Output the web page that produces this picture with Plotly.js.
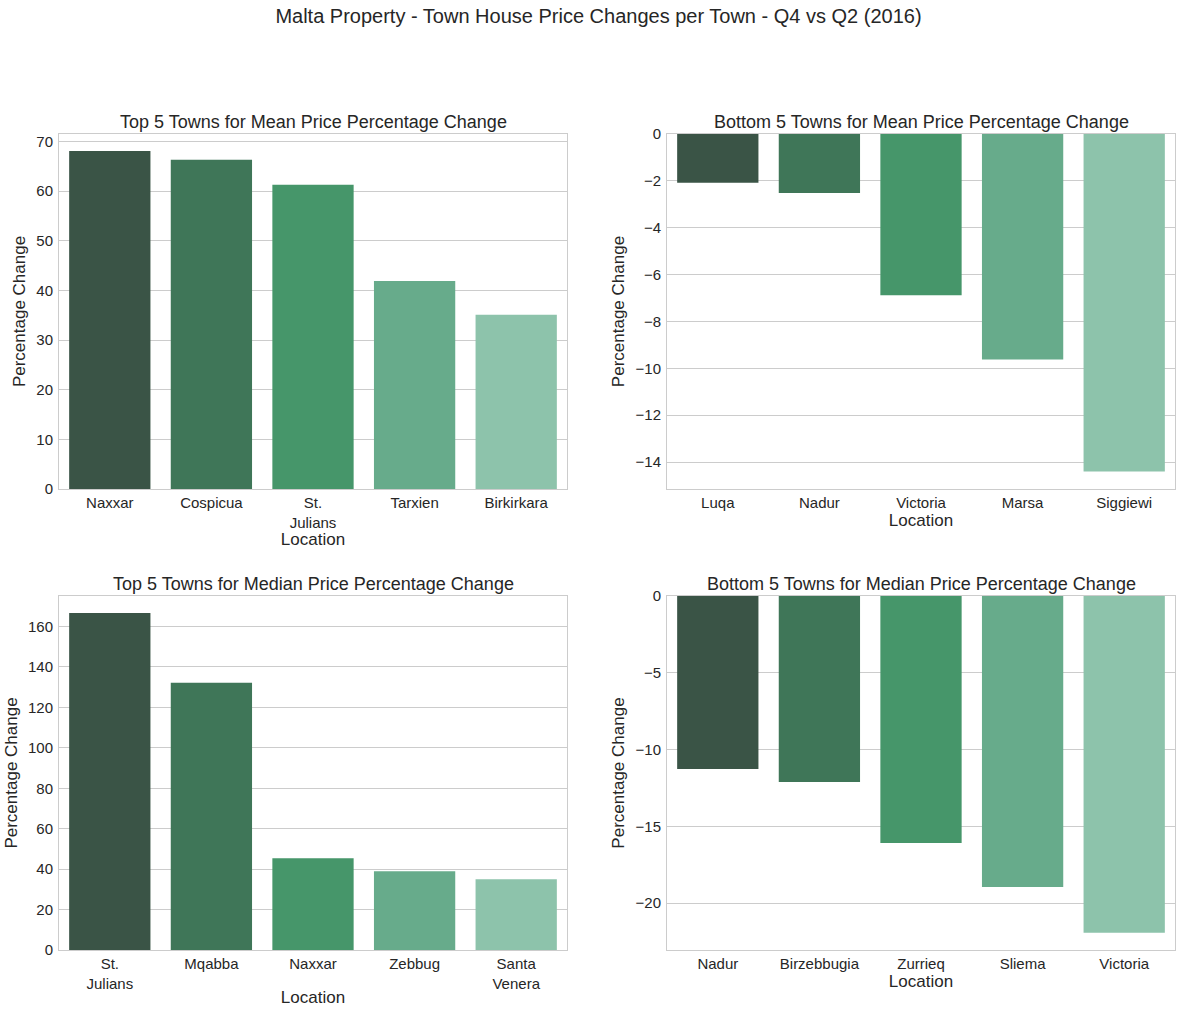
<!DOCTYPE html>
<html>
<head>
<meta charset="utf-8">
<script src="https://cdn.plot.ly/plotly-3.0.1.min.js"></script>
<style>html,body{margin:0;padding:0;background:#fff;}#chart{width:1181px;height:1013px;}</style>
</head>
<body>
<div id="chart"></div>
<script>
// ---- Data ----
const topMeanTowns = ['Naxxar', 'Cospicua', 'St.<br>Julians', 'Tarxien', 'Birkirkara'];
const topMeanValues = [68.1, 66.3, 61.3, 41.9, 35.1];

const bottomMeanTowns = ['Luqa', 'Nadur', 'Victoria', 'Marsa', 'Siggiewi'];
const bottomMeanValues = [-2.08, -2.52, -6.88, -9.62, -14.40];

const topMedianTowns = ['St.<br>Julians', 'Mqabba', 'Naxxar', 'Zebbug', 'Santa<br>Venera'];
const topMedianValues = [166.7, 132.2, 45.4, 39.0, 35.0];

const bottomMedianTowns = ['Nadur', 'Birzebbugia', 'Zurrieq', 'Sliema', 'Victoria'];
const bottomMedianValues = [-11.27, -12.11, -16.08, -18.94, -21.93];

const palette = ['#3a5446', '#3f7658', '#46966a', '#67ab8b', '#8dc3ab'];

const subplotTitles = [
  'Top 5 Towns for Mean Price Percentage Change',
  'Bottom 5 Towns for Mean Price Percentage Change',
  'Top 5 Towns for Median Price Percentage Change',
  'Bottom 5 Towns for Median Price Percentage Change'
];
const mainTitle = 'Malta Property - Town House Price Changes per Town - Q4 vs Q2 (2016)';

// ---- Build ----
const W = 1181, H = 1013;
const TXT = '#262626';
const FONT = 'Liberation Sans, Arial, sans-serif';

function bar(x, y, xa, ya) {
  return {type: 'bar', x: x, y: y, xaxis: xa, yaxis: ya,
    marker: {color: palette, line: {width: 0}}, hoverinfo: 'x+y', showlegend: false};
}
const data = [
  bar(topMeanTowns, topMeanValues, 'x', 'y'),
  bar(bottomMeanTowns, bottomMeanValues, 'x2', 'y2'),
  bar(topMedianTowns, topMedianValues, 'x3', 'y3'),
  bar(bottomMedianTowns, bottomMedianValues, 'x4', 'y4')
];

const leftDom = [59 / W, 567 / W];
const rightDom = [667 / W, 1175 / W];
const topDom = [(H - 489) / H, (H - 134) / H];
const botDom = [(H - 950) / H, (H - 596) / H];

function xax(dom, anchor) {
  return {domain: dom, anchor: anchor, showgrid: false, zeroline: false,
    showline: true, linecolor: '#cccccc', linewidth: 1, mirror: true,
    ticks: '', tickfont: {size: 15, color: TXT, family: FONT},
    title: {text: 'Location', font: {size: 17, color: TXT, family: FONT}, standoff: 0},
    fixedrange: true};
}
function yax(dom, anchor, range, dtick) {
  return {domain: dom, anchor: anchor, range: range, dtick: dtick, tick0: 0,
    showgrid: true, gridcolor: '#cccccc', gridwidth: 1, zeroline: false,
    showline: true, linecolor: '#cccccc', linewidth: 1, mirror: true,
    ticks: 'outside', ticklen: 2, tickcolor: 'rgba(0,0,0,0)',
    tickfont: {size: 15, color: TXT, family: FONT},
    title: {text: 'Percentage Change', font: {size: 17, color: TXT, family: FONT}, standoff: 6},
    fixedrange: true};
}

const layout = {
  width: W, height: H,
  margin: {l: 0, r: 0, t: 0, b: 0},
  paper_bgcolor: '#ffffff', plot_bgcolor: '#ffffff',
  font: {family: FONT, color: TXT},
  bargap: 0.2,
  showlegend: false,
  title: {text: mainTitle, font: {size: 20, color: TXT, family: FONT},
    x: 598.5 / W, xanchor: 'center', xref: 'paper', y: 1 - 16 / H, yanchor: 'middle', yref: 'container'},
  xaxis: xax(leftDom, 'y'),
  yaxis: yax(topDom, 'x', [0, 71.5], 10),
  xaxis2: xax(rightDom, 'y2'),
  yaxis2: yax(topDom, 'x2', [-15.15, 0], 2),
  xaxis3: xax(leftDom, 'y3'),
  yaxis3: yax(botDom, 'x3', [0, 175.1], 20),
  xaxis4: xax(rightDom, 'y4'),
  yaxis4: yax(botDom, 'x4', [-23.05, 0], 5),
  annotations: [
    {text: subplotTitles[0], x: (leftDom[0] + leftDom[1]) / 2, y: topDom[1]},
    {text: subplotTitles[1], x: (rightDom[0] + rightDom[1]) / 2, y: topDom[1]},
    {text: subplotTitles[2], x: (leftDom[0] + leftDom[1]) / 2, y: botDom[1]},
    {text: subplotTitles[3], x: (rightDom[0] + rightDom[1]) / 2, y: botDom[1]}
  ].map(a => Object.assign(a, {xref: 'paper', yref: 'paper', xanchor: 'center', yanchor: 'bottom',
    yshift: 0, showarrow: false, font: {size: 18, color: TXT, family: FONT}}))
};

Plotly.newPlot('chart', data, layout, {displayModeBar: false, staticPlot: true});
</script>
</body>
</html>
